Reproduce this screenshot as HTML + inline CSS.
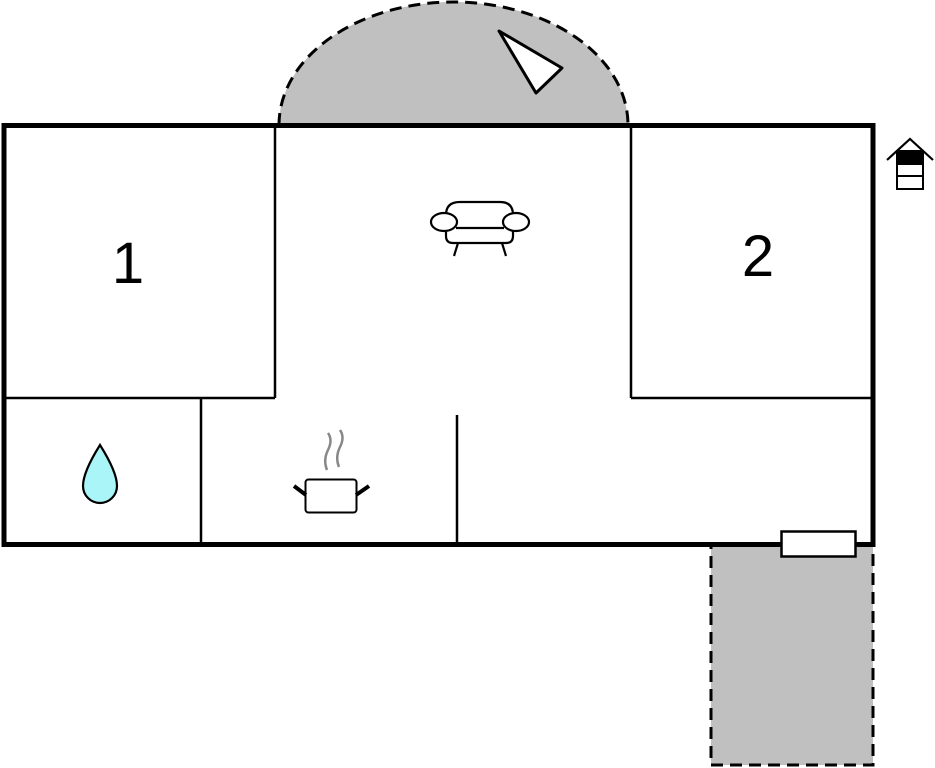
<!DOCTYPE html>
<html><head><meta charset="utf-8"><style>html,body{margin:0;padding:0;background:#fff}svg{display:block}</style></head>
<body>
<svg width="935" height="768" viewBox="0 0 935 768" xmlns="http://www.w3.org/2000/svg">
<path d="M279 125 A174.5 123 0 0 1 628 125 Z" fill="#c0c0c0"/>
<path d="M279 125 A174.5 123 0 0 1 628 125" fill="none" stroke="#000" stroke-width="3" stroke-dasharray="12 7"/>
<polygon points="499,31 562,68 536,93" fill="#fff" stroke="#000" stroke-width="3" stroke-linejoin="round"/>
<rect x="711" y="545" width="162" height="220" fill="#c0c0c0" stroke="#000" stroke-width="3" stroke-dasharray="12 7"/>
<rect x="4" y="125.5" width="869" height="419" fill="#fff" stroke="#000" stroke-width="5"/>
<g stroke="#000" stroke-width="2.5" fill="none">
<line x1="275" y1="125" x2="275" y2="398"/>
<line x1="4" y1="398" x2="275" y2="398"/>
<line x1="631" y1="125" x2="631" y2="398"/>
<line x1="631" y1="398" x2="873" y2="398"/>
<line x1="201" y1="398" x2="201" y2="545"/>
<line x1="457" y1="415" x2="457" y2="545"/>
</g>
<rect x="781.5" y="531.5" width="74" height="25" fill="#fff" stroke="#000" stroke-width="2.5"/>
<text x="128" y="283" font-family="Liberation Sans, sans-serif" font-size="58" text-anchor="middle">1</text>
<text x="758" y="276" font-family="Liberation Sans, sans-serif" font-size="58" text-anchor="middle">2</text>
<g fill="#fff" stroke="#000" stroke-width="2.2">
<path d="M446 215 Q446 202 460 202 L500 202 Q513 202 513 215 L513 236 Q513 243 506 243 L453 243 Q446 243 446 236 Z"/>
<line x1="456" y1="228" x2="504" y2="228"/>
<ellipse cx="444" cy="222" rx="13" ry="9"/>
<ellipse cx="516" cy="222" rx="13" ry="9"/>
<line x1="458" y1="243" x2="454" y2="256"/>
<line x1="502" y1="243" x2="506" y2="256"/>
</g>
<g fill="none" stroke="#888" stroke-width="2.5">
<path d="M327 470 Q323 460 328 450 Q333 440 328 433"/>
<path d="M339 467 Q335 457 340 447 Q345 437 340 430"/>
</g>
<rect x="305.5" y="479.5" width="51" height="33" rx="3" fill="#fff" stroke="#000" stroke-width="2"/>
<line x1="294" y1="486" x2="306" y2="495" stroke="#000" stroke-width="4"/>
<line x1="369" y1="486" x2="356" y2="495" stroke="#000" stroke-width="4"/>
<path d="M100 445 Q117 472 117 486 A17 17 0 0 1 83 486 Q83 472 100 445 Z" fill="#aaf5f8" stroke="#000" stroke-width="2.2"/>
<g stroke="#000" stroke-width="2" fill="#fff">
<rect x="897" y="151" width="26" height="38"/>
<rect x="897" y="151" width="26" height="13" fill="#000"/>
<line x1="897" y1="176" x2="923" y2="176"/>
</g>
<polyline points="887,160 910,139 933,160" fill="none" stroke="#000" stroke-width="2.2"/>
</svg>
</body></html>
